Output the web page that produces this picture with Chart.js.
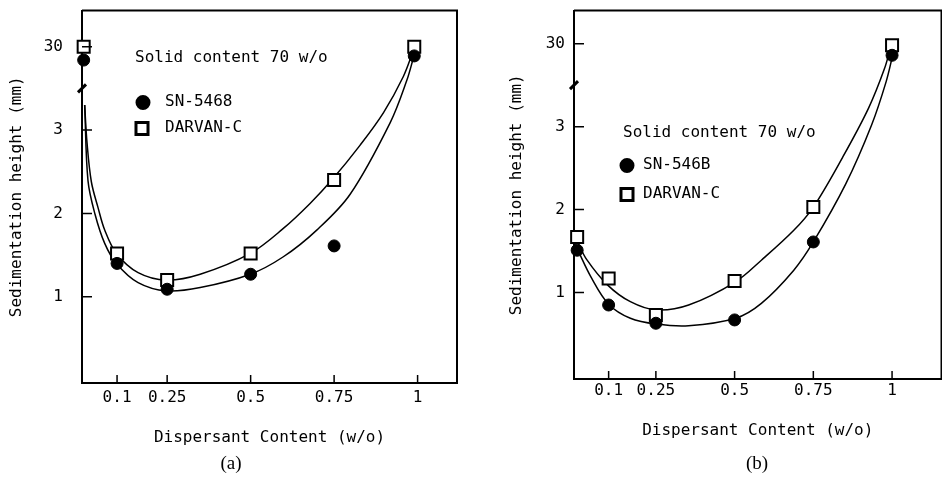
<!DOCTYPE html>
<html>
<head>
<meta charset="utf-8">
<script src="https://cdn.jsdelivr.net/npm/chart.js@4.4.1/dist/chart.umd.min.js"></script>
<style>
  html, body { margin: 0; padding: 0; background: #fff; }
  body { width: 942px; height: 479px; overflow: hidden; position: relative; }
  .panel { position: absolute; top: 0; }
  #panelA { left: 0; width: 470px; height: 479px; }
  #panelB { left: 470px; width: 482px; height: 479px; }
  .cap { position: absolute; top: 452px; width: 60px; text-align: center;
         font-family: "Liberation Serif", serif; font-size: 19px; line-height: 22px; color: #000; }
</style>
</head>
<body>
<div class="panel" id="panelA"><canvas id="chartA" width="470" height="479"></canvas></div>
<div class="panel" id="panelB"><canvas id="chartB" width="482" height="479"></canvas></div>
<div class="cap" style="left:201px">(a)</div>
<div class="cap" style="left:727px">(b)</div>
<script>
// dispersant content (w/o) of the measured points
const contentA = [0, 0.1, 0.25, 0.5, 0.75, 0.99];
const contentB = [0, 0.1, 0.25, 0.5, 0.75, 1];

// sedimentation height (mm)
const sn5468A = [28.4, 1.40, 1.09, 1.27, 1.61, 28.9];
const darvanA = [30, 1.52, 1.20, 1.52, 2.40, 30];
const sn546bB = [1.51, 0.85, 0.63, 0.67, 1.61, 28.6];
const darvanB = [1.67, 1.17, 0.73, 1.14, 2.03, 29.8];

// the hand drawn fit curves
const snCurveAX = [0.003, 0.013, 0.034, 0.063, 0.098, 0.163, 0.248, 0.349, 0.499, 0.598, 0.698, 0.798, 0.918, 0.968, 0.987];
const snCurveAY = [3.3, 2.39, 1.99, 1.64, 1.40, 1.17, 1.07, 1.11, 1.27, 1.48, 1.80, 2.23, 3.09, 26.0, 28.6];
const dvCurveAX = [0.003, 0.01, 0.023, 0.043, 0.063, 0.098, 0.163, 0.248, 0.349, 0.499, 0.598, 0.678, 0.743, 0.828, 0.898, 0.957, 0.987];
const dvCurveAY = [3.3, 2.85, 2.38, 2.07, 1.80, 1.52, 1.29, 1.20, 1.27, 1.52, 1.82, 2.12, 2.40, 2.82, 3.21, 26.4, 29.5];
const snCurveBX = [0, 0.045, 0.1, 0.169, 0.251, 0.354, 0.503, 0.585, 0.688, 0.75, 0.853, 0.935, 0.981, 1.002];
const snCurveBY = [1.53, 1.18, 0.86, 0.69, 0.62, 0.60, 0.69, 0.87, 1.27, 1.61, 2.31, 3.02, 25.4, 28.6];
const dvCurveBX = [0, 0.03, 0.097, 0.169, 0.251, 0.354, 0.503, 0.585, 0.688, 0.75, 0.843, 0.925, 0.976, 0.997];
const dvCurveBY = [1.62, 1.40, 1.09, 0.89, 0.79, 0.85, 1.13, 1.39, 1.75, 2.03, 2.63, 3.22, 27.0, 29.8];

const xTicks = [0.1, 0.25, 0.5, 0.75, 1];
const yTicks = [1, 2, 3, 30];

// y axis is cut between 3.5 and 25 mm, upper part squeezed
const BREAK_LOW = 3.5, BREAK_HIGH = 25;
function toAxis(mm) {
  if (mm <= BREAK_LOW) return mm;
  if (mm >= BREAK_HIGH) return BREAK_LOW + (mm - BREAK_HIGH) * 0.1;
  return BREAK_LOW;
}

function pts(xs, ys) {
  return xs.map((x, i) => ({ x: x, y: toAxis(ys[i]) }));
}

const MONO = '"DejaVu Sans Mono", monospace';

const axisDecor = {
  id: 'axisDecor',
  afterDraw(chart, args, o) {
    const { ctx, chartArea: a, scales: { x, y } } = chart;
    ctx.save();
    ctx.strokeStyle = '#000';
    ctx.lineWidth = 2;
    ctx.beginPath();
    ctx.moveTo(a.left, a.top);
    ctx.lineTo(a.right, a.top);
    ctx.lineTo(a.right, a.bottom);
    ctx.stroke();

    // tick marks point into the plot
    ctx.lineWidth = 1.5;
    ctx.beginPath();
    y.ticks.forEach(t => {
      const py = y.getPixelForValue(t.value);
      ctx.moveTo(a.left, py);
      ctx.lineTo(a.left + 10, py);
    });
    x.ticks.forEach(t => {
      const px = x.getPixelForValue(t.value);
      ctx.moveTo(px, a.bottom);
      ctx.lineTo(px, a.bottom - 8);
    });
    ctx.stroke();

    // break mark on the y axis
    const by = y.getPixelForValue(BREAK_LOW);
    ctx.lineWidth = 3;
    ctx.beginPath();
    ctx.moveTo(a.left - 4, by + 4);
    ctx.lineTo(a.left + 4, by - 4);
    ctx.stroke();

    // note and legend
    ctx.fillStyle = '#000';
    ctx.font = '16px ' + MONO;
    ctx.textBaseline = 'middle';
    ctx.fillText(o.note, a.left + o.noteX, a.top + o.noteY);
    const ds = chart.data.datasets;
    o.rows.forEach((r, i) => {
      const d = ds[i];
      ctx.fillStyle = d.backgroundColor;
      ctx.strokeStyle = '#000';
      Chart.helpers.drawPoint(ctx, { pointStyle: d.pointStyle, radius: d.pointRadius, borderWidth: d.borderWidth, rotation: 0 },
        a.left + r[0], a.top + r[1]);
      ctx.fillStyle = '#000';
      ctx.fillText(d.label, a.left + o.textX, a.top + r[1] - 1);
    });
    ctx.restore();
  }
};

function panel(id, o) {
  return new Chart(document.getElementById(id), {
    type: 'scatter',
    data: {
      datasets: [
        { label: o.names[0], data: pts(o.xs, o.sn), pointStyle: 'circle', pointRadius: 6,
          backgroundColor: '#000', borderColor: '#000', borderWidth: 1, clip: false },
        { label: o.names[1], data: pts(o.xs, o.dv), pointStyle: 'rect', pointRadius: 8.5,
          backgroundColor: '#fff', borderColor: '#000', borderWidth: 2, clip: false },
        { label: 'fit1', data: pts(o.snCx, o.snCy), showLine: true, pointRadius: 0,
          borderColor: '#000', borderWidth: 1.5, tension: 0.35, clip: false },
        { label: 'fit2', data: pts(o.dvCx, o.dvCy), showLine: true, pointRadius: 0,
          borderColor: '#000', borderWidth: 1.5, tension: 0.35, clip: false }
      ]
    },
    options: {
      responsive: false,
      animation: false,
      events: [],
      layout: { padding: o.pad },
      plugins: {
        legend: { display: false },
        tooltip: { enabled: false },
        axisDecor: o.decor
      },
      scales: {
        x: {
          type: 'linear', min: o.xMin, max: o.xMax,
          grid: { display: false, drawTicks: false },
          border: { color: '#000', width: 2 },
          ticks: { color: '#000', padding: o.xTickPad, font: { family: MONO, size: 16 },
                   callback: (v, i) => String(xTicks[i]) },
          afterBuildTicks: s => { s.ticks = xTicks.map(v => ({ value: v })); },
          afterFit: s => { s.height = o.xHeight; s.paddingLeft = 0; s.paddingRight = 0; },
          title: { display: true, text: 'Dispersant Content (w/o)', color: '#000',
                   font: { family: MONO, size: 16 }, padding: { top: 0, bottom: o.xTitlePad } }
        },
        y: {
          type: 'linear', min: o.yMin, max: o.yMax,
          grid: { display: false, drawTicks: false },
          border: { color: '#000', width: 2 },
          ticks: { color: '#000', padding: o.yTickPad, font: { family: MONO, size: 16 },
                   callback: (v, i) => String(yTicks[i]) },
          afterBuildTicks: s => { s.ticks = yTicks.map(v => ({ value: toAxis(v) })); },
          afterFit: s => { s.width = o.yWidth; s.paddingTop = 0; s.paddingBottom = 0; },
          title: { display: true, text: 'Sedimentation height (mm)', color: '#000',
                   font: { family: MONO, size: 16 }, padding: { top: o.yTitlePad, bottom: 0 } }
        }
      }
    },
    plugins: [axisDecor]
  });
}

panel('chartA', {
  names: ['SN-5468', 'DARVAN-C'],
  xs: contentA, sn: sn5468A, dv: darvanA,
  snCx: snCurveAX, snCy: snCurveAY, dvCx: dvCurveAX, dvCy: dvCurveAY,
  pad: { left: 0, top: 3, right: 13, bottom: 0 },
  xMin: -0.005, xMax: 1.118, yMin: -0.035, yMax: 4.435,
  xHeight: 96, yWidth: 82, xTickPad: 5, yTickPad: 19, xTitlePad: 32, yTitlePad: 7,
  decor: { note: 'Solid content 70 w/o', noteX: 53, noteY: 47, textX: 83,
           rows: [[61, 92], [60, 118]] }
});

panel('chartB', {
  names: ['SN-546B', 'DARVAN-C'],
  xs: contentB, sn: sn546bB, dv: darvanB,
  snCx: snCurveBX, snCy: snCurveBY, dvCx: dvCurveBX, dvCy: dvCurveBY,
  pad: { left: 0, top: 8, right: 0, bottom: 0 },
  xMin: -0.01, xMax: 1.157, yMin: -0.042, yMax: 4.4,
  xHeight: 100, yWidth: 104, xTickPad: 2, yTickPad: 9, xTitlePad: 39, yTitlePad: 37,
  decor: { note: 'Solid content 70 w/o', noteX: 49, noteY: 122, textX: 69,
           rows: [[53, 155], [53, 184]] }
});
</script>
</body>
</html>
